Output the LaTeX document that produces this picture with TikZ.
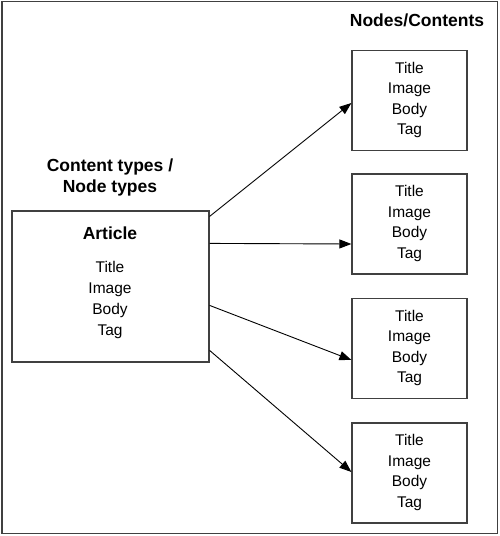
\documentclass[tikz,border=0pt]{standalone}
\usepackage{fontspec}
\setmainfont{Liberation Sans}
\usetikzlibrary{arrows.meta}
\begin{document}
\begin{tikzpicture}[x=1pt,y=-1pt,
  frame/.style={draw=black!75,line width=1.3pt},
  box/.style={draw=black!75,line width=1.2pt,rectangle,inner sep=0pt},
  head/.style={font=\bfseries\fontsize{17.5}{21}\selectfont,align=center,inner sep=0pt},
  list/.style={font=\fontsize{15.5}{20.5}\selectfont,align=center,inner sep=0pt},
  conn/.style={draw=black,line width=0.9pt,-{Triangle[length=12pt,width=9pt]}}]
\useasboundingbox (0,0) rectangle (500,536);
\draw[frame] (2,1.5) rectangle (497.5,533.5);
% left box
\node[box,minimum width=197pt,minimum height=151pt] (art) at (110.5,286.5) {};
\node[head] (ctype) at (110,177.5) {Content types /\\Node types};
\node[head] (artt) at (110,233) {Article};
\node[list,font=\fontsize{15.5}{20.7}\selectfont] (artl) at (110,300) {Title\\Image\\Body\\Tag};
% right boxes
\node[head] (nc) at (417,20) {Nodes/Contents};
\foreach \n/\y in {1/100.5,2/224,3/348.5,4/473}{
  \node[box,minimum width=115pt,minimum height=100pt] (b\n) at (409.5,\y) {};
  \node[list] (t\n) at (409.5,\y-0.5) {Title\\Image\\Body\\Tag};
}
% connectors
\draw[conn] ([yshift=-6pt]art.north east) -- ([yshift=-2.5pt]b1.west);
\draw[conn] ([yshift=-33pt]art.north east) -- ([yshift=-20pt]b2.west);
\draw[conn] ([yshift=-95pt]art.north east) -- ([yshift=-11.5pt]b3.west);
\draw[conn] ([yshift=-140pt]art.north east) -- ([yshift=1pt]b4.west);
\end{tikzpicture}
\end{document}
